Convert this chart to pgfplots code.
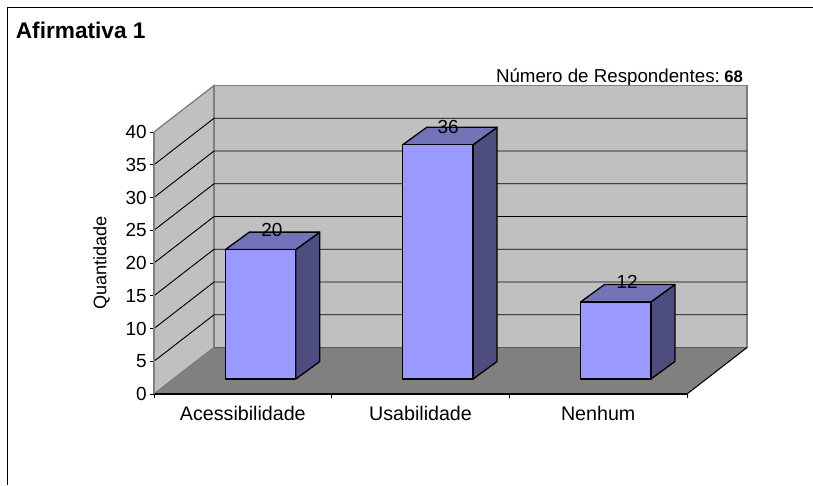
\documentclass[border=0pt]{standalone}
\usepackage{fontspec}
\setmainfont{Liberation Sans}
\usepackage{pgfplots}
\pgfplotsset{compat=1.18}

\definecolor{wall}{HTML}{C0C0C0}
\definecolor{floorc}{HTML}{808080}
\definecolor{edgec}{HTML}{7F7F7F}
\definecolor{barfront}{HTML}{9999FF}
\definecolor{bartop}{HTML}{7373B8}
\definecolor{barside}{HTML}{4D4D80}

% depth of the back wall, in axis units
\newcommand\wx{0.338}
\newcommand\wy{7.1}

% one gridline: along the side wall, then along the back wall
\newcommand\gridline[1]{%
  \pgfmathsetmacro\gy{#1+\wy}%
  \addplot[black,line width=0.7pt] coordinates {(-0.5,#1) (-0.162,\gy) (2.838,\gy)};
}

% one bar: left edge, right edge, value
\newcommand\cuboid[3]{%
  \pgfmathsetmacro\ttop{#3+2.05}%
  \pgfmathsetmacro\bbot{2.29}%
  \pgfmathsetmacro\xa{#1+0.135}%
  \pgfmathsetmacro\xb{#2+0.135}%
  \pgfmathsetmacro\ya{\ttop+2.67}%
  \pgfmathsetmacro\yb{\bbot+2.67}%
  \addplot[draw=black,line width=1pt,fill=barside,line join=round] coordinates {(#2,\bbot) (\xb,\yb) (\xb,\ya) (#2,\ttop)} -- cycle;
  \addplot[draw=black,line width=1pt,fill=bartop,line join=round] coordinates {(#1,\ttop) (\xa,\ya) (\xb,\ya) (#2,\ttop)} -- cycle;
  \addplot[draw=black,line width=1pt,fill=barfront,line join=round] coordinates {(#1,\bbot) (#2,\bbot) (#2,\ttop) (#1,\ttop)} -- cycle;
}

\begin{document}
\begin{tikzpicture}
\useasboundingbox (-115.5pt,-68.25pt) rectangle (494.25pt,295.5pt);
\draw[black,line width=1pt] (-110pt,-68.25pt) -- (-110pt,289.9pt) -- (494.25pt,289.9pt);
\node[anchor=base west,inner sep=0pt,font=\fontsize{17}{20}\selectfont\bfseries] at (-103.8pt,266.25pt) {Afirmativa 1};
\node[anchor=base west,inner sep=0pt,font=\fontsize{14.05}{16}\selectfont] at (256.3pt,233.8pt) {Número de Respondentes:};
\node[anchor=base west,inner sep=0pt,font=\fontsize{12.5}{15}\selectfont\bfseries] at (427.5pt,233.8pt) {68};
\begin{axis}[
    scale only axis,
    width=399.75pt,
    height=196.5pt,
    xmin=-0.5, xmax=2.5,
    ymin=0, ymax=40,
    clip=false,
    axis on top,
    axis x line*=bottom,
    axis y line*=left,
    x axis line style={-,black,line width=0.8pt},
    y axis line style={-,edgec,line width=1.1pt},
    tick align=outside,
    tick style={black,line width=0.6pt},
    major tick length=3pt,
    minor tick length=3pt,
    xtick={0,1,2},
    xticklabels={Acessibilidade,Usabilidade,Nenhum},
    minor xtick={-0.5,0.5,1.5,2.5},
    major x tick style={draw=none},
    ytick={0,5,...,40},
    ylabel={Quantidade},
    /pgf/number format/assume math mode=true,
    yticklabel style={xshift=1pt,font=\fontsize{14.2}{17}\selectfont},
    xticklabel style={yshift=-3pt,font=\fontsize{14.75}{17}\selectfont},
    label style={font=\fontsize{13.6}{16}\selectfont},
    ylabel style={yshift=5pt},
]
% walls and floor
\addplot[draw=edgec,line width=1pt,fill=wall] coordinates {(-0.5,0) (-0.162,7.1) (-0.162,47.1) (-0.5,40)} -- cycle;
\addplot[draw=edgec,line width=1.1pt,fill=wall] coordinates {(-0.162,7.1) (2.838,7.1) (2.838,47.1) (-0.162,47.1)} -- cycle;
\gridline{5}
\gridline{10}
\gridline{15}
\gridline{20}
\gridline{25}
\gridline{30}
\gridline{35}
\addplot[draw=none,fill=floorc] coordinates {(-0.5,0) (-0.162,7.1) (2.838,7.1) (2.5,0)} -- cycle;
\addplot[edgec!70!black,line width=1pt] coordinates {(-0.162,7.1) (2.838,7.1)};
\addplot[edgec,line width=0.8pt] coordinates {(-0.5,0) (-0.162,7.1)};
\addplot[black,line width=0.8pt] coordinates {(2.5,0) (2.838,7.1)};
% bars
\cuboid{-0.098}{0.298}{20}
\cuboid{0.900}{1.296}{36}
\cuboid{1.901}{2.297}{12}
% value labels
\addplot[draw=none,mark=none,point meta=explicit symbolic,nodes near coords,
  every node near coord/.style={anchor=center,inner sep=0pt,font=\fontsize{14.2}{17}\selectfont}]
  coordinates {(0.164,25.0)[20] (1.155,40.8)[36] (2.163,17.1)[12]};
\end{axis}
\end{tikzpicture}
\end{document}
